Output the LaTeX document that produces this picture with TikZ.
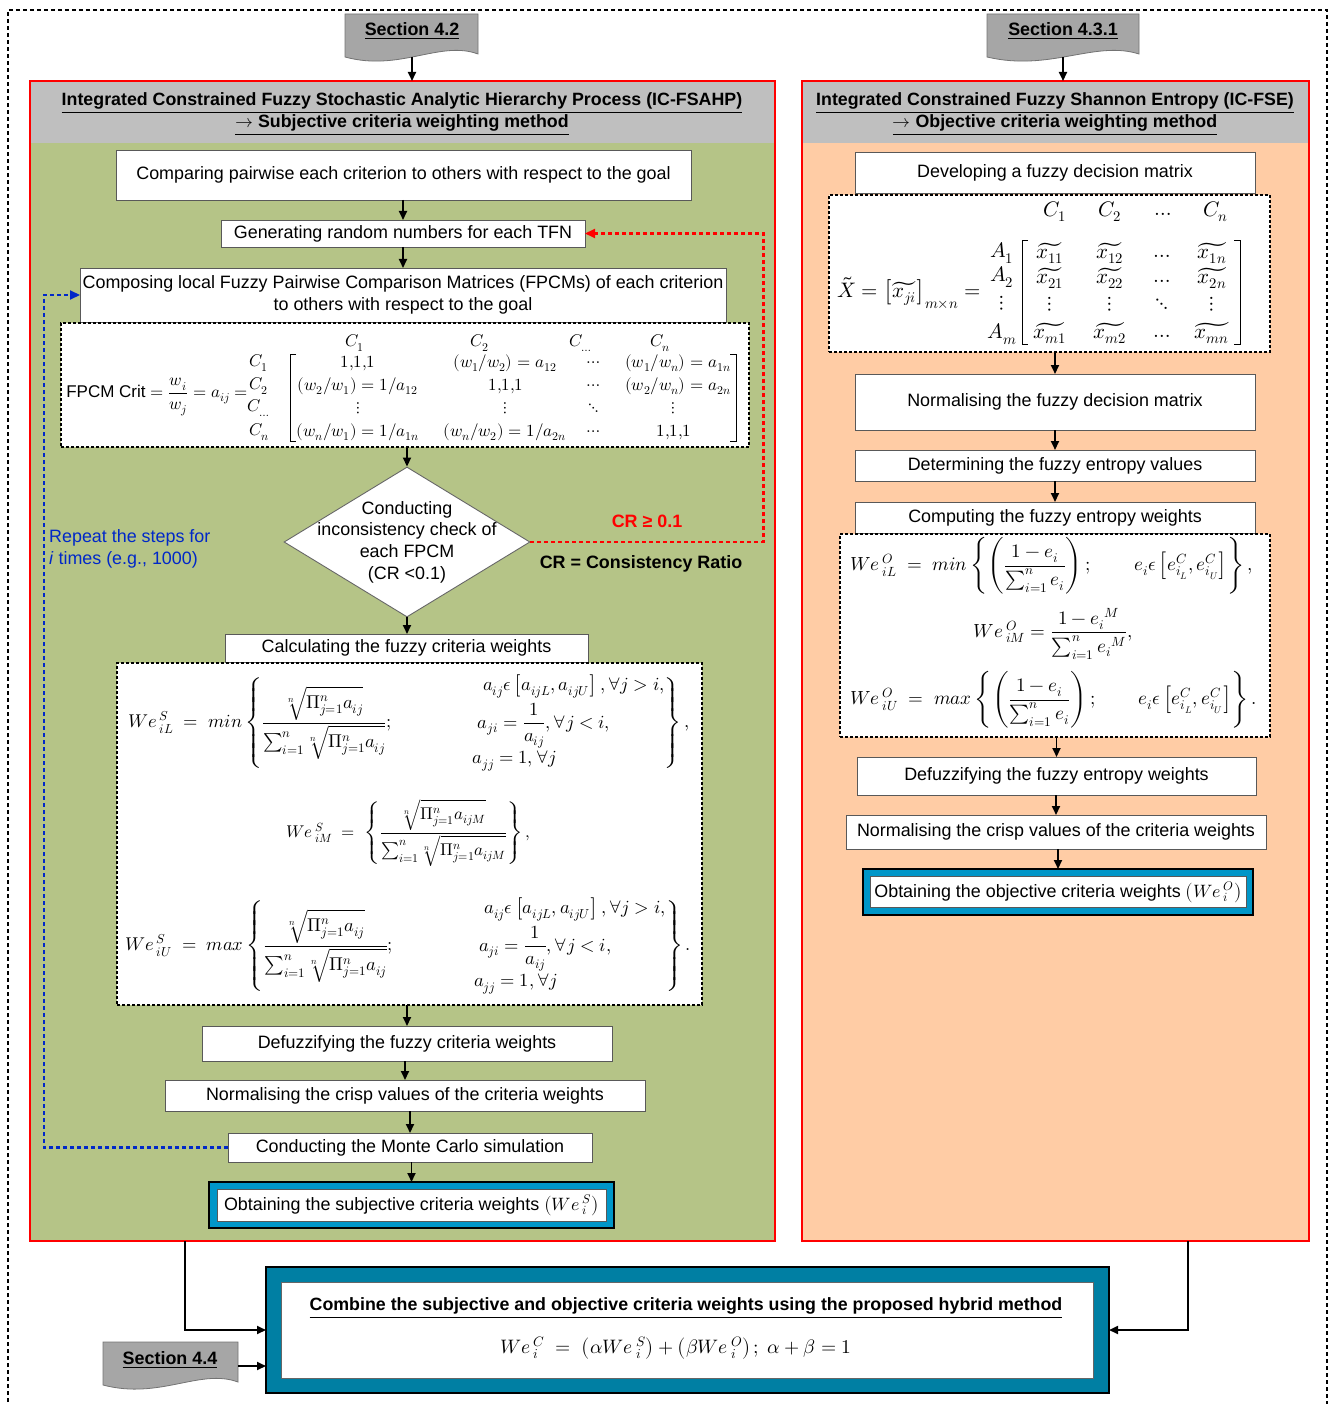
\documentclass[tikz,border=0pt]{standalone}
\usepackage{amsmath}
\usepackage{unicode-math}
\setmainfont{Liberation Sans}
\setmathfont{Latin Modern Math}
\usetikzlibrary{arrows.meta,shapes.geometric}
\definecolor{greenfill}{RGB}{181,196,135}
\definecolor{peachfill}{RGB}{255,204,165}
\definecolor{headgray}{RGB}{191,191,191}
\definecolor{taggray}{RGB}{166,166,166}
\definecolor{obtblue}{RGB}{0,150,200}
\definecolor{combblue}{RGB}{0,127,163}
\definecolor{repblue}{RGB}{0,40,200}
\newcommand{\txtfs}{\fontsize{17.9}{21.7}\selectfont}
\newcommand{\headfs}{\fontsize{17.8}{22}\selectfont\bfseries}
\newcommand{\mathfs}{\fontsize{17}{20}\selectfont}
\newcommand{\formfs}{\fontsize{18.5}{22}\selectfont}
\newcommand{\rformfs}{\fontsize{19}{22}\selectfont}
\newcommand{\rmatfs}{\fontsize{21}{24}\selectfont}
\newcommand{\Wsym}[2]{We\,{}^{#1}_{#2}}
\newcommand{\harr}{$\rightarrow$}
\newcommand{\rtp}[1]{\sqrt[n]{\vphantom{\big(}#1}}
\begin{document}
\begin{tikzpicture}[x=1pt,y=-1pt,
  stepbox/.style={draw=black!65, fill=white, line width=0.9pt, inner sep=0pt, outer sep=0pt, align=center, font=\txtfs},
  arr/.style={draw=black, line width=1.8pt, -{Triangle[length=9pt,width=8pt]}},
  dbox/.style={draw=black, line width=1.6pt, dash pattern=on 3pt off 2pt, fill=white, inner sep=0pt, outer sep=0pt},
  mathn/.style={inner sep=0pt, font=\mathfs},
  formn/.style={inner sep=0pt, font=\formfs},
  rformn/.style={inner sep=0pt, font=\rformfs},
  rmatn/.style={inner sep=0pt, font=\rmatfs},
  tagshape/.style={draw=black!55, fill=taggray, line width=0.8pt},
  tagtext/.style={font=\txtfs\bfseries, inner sep=0pt},
  panel/.style={draw=none, inner sep=0pt, outer sep=0pt},
  redline/.style={draw=red, line width=2.5pt},
  hdr/.style={font=\headfs, align=center, inner sep=0pt},
  obtouter/.style={draw=black, line width=2pt, fill=obtblue, inner sep=0pt, outer sep=0pt},
  brk/.style={draw=black, line width=0.9pt}
]
\useasboundingbox (0,0) rectangle (1330,1404);
% outer frame
\draw[line width=2pt, dash pattern=on 4pt off 3pt] (8,1430) -- (8,10) -- (1327,10) -- (1327,1430);

% ---------- panels
\node[panel, fill=greenfill, minimum width=745, minimum height=1160, anchor=north west] (lred) at (30,81) {};
\fill[headgray] (lred.north west) rectangle ([yshift=-62pt]lred.north east);
\draw[redline] (lred.north west) rectangle (lred.south east);
\node[panel, fill=peachfill, minimum width=507, minimum height=1160, anchor=north west] (rred) at (802,81) {};
\fill[headgray] (rred.north west) rectangle ([yshift=-62pt]rred.north east);
\draw[redline] (rred.north west) rectangle (rred.south east);

\node[hdr] (lhdr) at (402,114) {\underline{Integrated Constrained Fuzzy Stochastic Analytic Hierarchy Process (IC-FSAHP)}\\\underline{\harr{} Subjective criteria weighting method}};
\node[hdr] (rhdr) at (1055,114) {\underline{Integrated Constrained Fuzzy Shannon Entropy (IC-FSE)}\\\underline{\harr{} Objective criteria weighting method}};

% ---------- section tags
\draw[tagshape] (345,14) -- (478,14) -- (478,54) .. controls (440,40) and (400,72) .. (345,57) -- cycle;
\node[tagtext] (s42) at (412,31) {\underline{Section 4.2}};
\coordinate (s42b) at (412,57);
\draw[tagshape] (987,14) -- (1139,14) -- (1139,54) .. controls (1095,40) and (1050,72) .. (987,57) -- cycle;
\node[tagtext] (s431) at (1063,31) {\underline{Section 4.3.1}};
\coordinate (s431b) at (1063,57);
\draw[tagshape] (103,1342) -- (238,1342) -- (238,1382) .. controls (200,1368) and (160,1400) .. (103,1385) -- cycle;
\node[tagtext] (s44) at (170,1360) {\underline{Section 4.4}};
\coordinate (s44e) at (238,1366);

\draw[arr] (s42b) -- (s42b |- lred.north);
\draw[arr] (s431b) -- (s431b |- rred.north);

% ---------- left column
\node[stepbox, minimum width=575, minimum height=50] (b1) at (403.5,175) {Comparing pairwise each criterion to others with respect to the goal};
\node[stepbox, minimum width=364, minimum height=27] (b2) at (403,233.5) {Generating random numbers for each TFN};
\node[stepbox, minimum width=646, minimum height=54] (b3) at (403,295) {Composing local Fuzzy Pairwise Comparison Matrices (FPCMs) of each criterion\\to others with respect to the goal};
\node[dbox, minimum width=688, minimum height=124] (fpcm) at (405,385) {};

% FPCM matrix content
\node[mathn] (fl) at (157,397) {$\mathrm{FPCM\ Crit}=\dfrac{w_i}{w_j}=a_{ij}=$};
\node[mathn] (h1) at (355,343) {$C_1$};
\node[mathn] (h2) at (480,343) {$C_2$};
\node[mathn] (h3) at (581,343) {$C_{\ldots}$};
\node[mathn] (h4) at (660,343) {$C_n$};
\node[mathn] (l1) at (259,363) {$C_1$};
\node[mathn] (l2) at (259,386) {$C_2$};
\node[mathn] (l3) at (259,408) {$C_{\ldots}$};
\node[mathn] (l4) at (259,432) {$C_n$};
\node[mathn] (m11) at (358,363) {$1{,}1{,}1$};
\node[mathn] (m12) at (505,363) {$(w_1/w_2)=a_{12}$};
\node[mathn] (m13) at (594,363) {$\ldots$};
\node[mathn] (m14) at (678,363) {$(w_1/w_n)=a_{1n}$};
\node[mathn] (m21) at (358,386) {$(w_2/w_1)=1/a_{12}$};
\node[mathn] (m22) at (506,386) {$1{,}1{,}1$};
\node[mathn] (m23) at (594,386) {$\ldots$};
\node[mathn] (m24) at (678,386) {$(w_2/w_n)=a_{2n}$};
\node[mathn] (m31) at (358,408) {$\vdots$};
\node[mathn] (m32) at (505,408) {$\vdots$};
\node[mathn] (m33) at (594,408) {$\ddots$};
\node[mathn] (m34) at (673,408) {$\vdots$};
\node[mathn] (m41) at (358,432) {$(w_n/w_1)=1/a_{1n}$};
\node[mathn] (m42) at (505,432) {$(w_n/w_2)=1/a_{2n}$};
\node[mathn] (m43) at (594,432) {$\ldots$};
\node[mathn] (m44) at (674,432) {$1{,}1{,}1$};
\draw[brk] (296,354) -- (290,354) -- (290,441) -- (296,441);
\draw[brk] (730,354) -- (736,354) -- (736,441) -- (730,441);

\node[diamond, draw=black!60, line width=0.9pt, fill=white, minimum width=246, minimum height=150, inner sep=0pt] (dia) at (407,542) {};
\node[font=\txtfs, align=center, inner sep=0pt] (diat) at (dia.center) {Conducting\\inconsistency check of\\each FPCM\\(CR <0.1)};
\node[stepbox, minimum width=363, minimum height=28] (b6) at (406.5,648) {Calculating the fuzzy criteria weights};
\node[dbox, minimum width=585, minimum height=342] (lform) at (409.5,834) {};

\node[formn, anchor=west] (lf1) at (128,723) {$\Wsym{S}{iL} \;=\; min\left\{\dfrac{\rtp{\mitPi_{j=1}^{n}a_{ij}}}{\sum\nolimits_{i=1}^{n}\rtp{\mitPi_{j=1}^{n}a_{ij}}};\hspace{78pt}\begin{array}{@{}l@{}} \;\;a_{ij}\epsilon\left[a_{ijL},a_{ijU}\right],\forall j>i,\\[6pt] \;a_{ji}=\dfrac{1}{a_{ij}},\forall j<i,\\[6pt] a_{jj}=1,\forall j\end{array}\right\},$};
\node[mathn] (lf2) at (408,833) {$\Wsym{S}{iM} \;=\; \left\{\dfrac{\rtp{\mitPi_{j=1}^{n}a_{ijM}}}{\sum\nolimits_{i=1}^{n}\rtp{\mitPi_{j=1}^{n}a_{ijM}}}\right\},$};
\node[formn, anchor=west] (lf3) at (125,946) {$\Wsym{S}{iU} \;=\; max\left\{\dfrac{\rtp{\mitPi_{j=1}^{n}a_{ij}}}{\sum\nolimits_{i=1}^{n}\rtp{\mitPi_{j=1}^{n}a_{ij}}};\hspace{78pt}\begin{array}{@{}l@{}} \;\;a_{ij}\epsilon\left[a_{ijL},a_{ijU}\right],\forall j>i,\\[6pt] \;a_{ji}=\dfrac{1}{a_{ij}},\forall j<i,\\[6pt] a_{jj}=1,\forall j\end{array}\right\}.$};

\node[stepbox, minimum width=410, minimum height=35] (b8) at (407,1043.5) {Defuzzifying the fuzzy criteria weights};
\node[stepbox, minimum width=480, minimum height=31] (b9) at (405,1095.5) {Normalising the crisp values of the criteria weights};
\node[stepbox, minimum width=364, minimum height=29] (b10) at (410,1147.5) {Conducting the Monte Carlo simulation};
\node[obtouter, minimum width=405, minimum height=46] (b11) at (411.5,1205) {};
\node[stepbox, minimum width=389, minimum height=32] (b11i) at (b11.center) {Obtaining the subjective criteria weights $\left(We\,{}^{S}_{i}\right)$};

\draw[arr] (b2.north |- b1.south) -- (b2.north);
\draw[arr] (b3.north |- b2.south) -- (b3.north);
\draw[arr] (dia.north |- fpcm.south) -- (dia.north);
\draw[arr] (dia.south) -- (dia.south |- b6.north);
\draw[arr] (b8.north |- lform.south) -- (b8.north);
\draw[arr] (b9.north |- b8.south) -- (b9.north);
\draw[arr] (b10.north |- b9.south) -- (b10.north);
\draw[arr] (b11.north |- b10.south) -- (b11.north);

% feedback loops
\draw[red, line width=2.2pt, dash pattern=on 4pt off 3pt, -{Triangle[length=10pt,width=9pt]}] (dia.east) -- ++(233,0) |- (b2.east);
\node[font=\txtfs\bfseries, text=red, inner sep=0pt] (crge) at (647,521) {CR ≥ 0.1};
\node[font=\txtfs\bfseries, inner sep=0pt] (crdef) at (641,564) {CR = Consistency Ratio};
\draw[repblue, line width=2.2pt, dash pattern=on 4pt off 3pt, -{Triangle[length=10pt,width=9pt]}] (b10.west) -- ++(-184,0) |- (b3.west);
\node[font=\txtfs, text=repblue, align=left, anchor=west, inner sep=0pt] (rep) at (49,549) {Repeat the steps for\\\textit{i} times (e.g., 1000)};

% ---------- right column
\node[stepbox, minimum width=400, minimum height=41] (r1) at (1055,172.5) {Developing a fuzzy decision matrix};
\node[dbox, line width=2pt, minimum width=441, minimum height=157] (rmat) at (1049.5,273.5) {};
\node[rmatn] (xl) at (909,293) {$\tilde{X}=\left[\widetilde{x_{ji}}\right]_{m\times n}=$};
\node[rmatn] (rh1) at (1055,212) {$C_1$};
\node[rmatn] (rh2) at (1110,212) {$C_2$};
\node[rmatn] (rh3) at (1163,214) {$\ldots$};
\node[rmatn] (rh4) at (1216,212) {$C_n$};
\node[rmatn] (ra1) at (1002,253) {$A_1$};
\node[rmatn] (ra2) at (1002,277) {$A_2$};
\node[rmatn] (ra3) at (1002,303) {$\vdots$};
\node[rmatn] (ra4) at (1002,334) {$A_m$};
\node[rmatn] (x11) at (1050,253) {$\widetilde{x_{11}}$};
\node[rmatn] (x12) at (1110,253) {$\widetilde{x_{12}}$};
\node[rmatn] (x13) at (1162,256) {$\ldots$};
\node[rmatn] (x14) at (1212,253) {$\widetilde{x_{1n}}$};
\node[rmatn] (x21) at (1050,278) {$\widetilde{x_{21}}$};
\node[rmatn] (x22) at (1110,278) {$\widetilde{x_{22}}$};
\node[rmatn] (x23) at (1162,281) {$\ldots$};
\node[rmatn] (x24) at (1212,278) {$\widetilde{x_{2n}}$};
\node[rmatn] (x31) at (1050,304) {$\vdots$};
\node[rmatn] (x32) at (1110,304) {$\vdots$};
\node[rmatn] (x33) at (1162,304) {$\ddots$};
\node[rmatn] (x34) at (1212,304) {$\vdots$};
\node[rmatn] (x41) at (1050,333) {$\widetilde{x_{m1}}$};
\node[rmatn] (x42) at (1110,333) {$\widetilde{x_{m2}}$};
\node[rmatn] (x43) at (1162,336) {$\ldots$};
\node[rmatn] (x44) at (1212,333) {$\widetilde{x_{mn}}$};
\draw[brk] (1028,240) -- (1022,240) -- (1022,344) -- (1028,344);
\draw[brk] (1234,240) -- (1240,240) -- (1240,344) -- (1234,344);

\node[stepbox, minimum width=400, minimum height=56] (r3) at (1055,402) {Normalising the fuzzy decision matrix};
\node[stepbox, minimum width=400, minimum height=31] (r4) at (1055,465.5) {Determining the fuzzy entropy values};
\node[stepbox, minimum width=400, minimum height=31] (r5) at (1055,517.5) {Computing the fuzzy entropy weights};
\node[dbox, minimum width=430, minimum height=203] (rform) at (1055,635.5) {};
\node[rformn, anchor=west] (rf1) at (850,566) {$\Wsym{O}{iL} \;=\; min\left\{\left(\dfrac{1-e_i}{\sum\nolimits_{i=1}^{n}e_i}\right);\hspace{40pt} e_i\epsilon\left[e^{C}_{i_L},e^{C}_{i_U}\right]\right\},$};
\node[rformn] (rf2) at (1053,634) {$\Wsym{O}{iM}=\dfrac{1-{e_i}^{M}}{\sum\nolimits_{i=1}^{n}{e_i}^{M}},$};
\node[rformn, anchor=west] (rf3) at (850,700) {$\Wsym{O}{iU} \;=\; max\left\{\left(\dfrac{1-e_i}{\sum\nolimits_{i=1}^{n}e_i}\right);\hspace{40pt} e_i\epsilon\left[e^{C}_{i_L},e^{C}_{i_U}\right]\right\}.$};
\node[stepbox, minimum width=399, minimum height=38] (r7) at (1056.5,776) {Defuzzifying the fuzzy entropy weights};
\node[stepbox, minimum width=420, minimum height=34] (r8) at (1056,832) {Normalising the crisp values of the criteria weights};
\node[obtouter, minimum width=390, minimum height=46] (r9) at (1058,892) {};
\node[stepbox, minimum width=376, minimum height=31] (r9i) at (r9.center) {Obtaining the objective criteria weights $\left(We\,{}^{O}_{i}\right)$};

\draw[arr] (r3.north |- rmat.south) -- (r3.north);
\draw[arr] (r4.north |- r3.south) -- (r4.north);
\draw[arr] (r5.north |- r4.south) -- (r5.north);
\draw[arr] (r7.north |- rform.south) -- (r7.north);
\draw[arr] (r8.north |- r7.south) -- (r8.north);
\draw[arr] (r9.north |- r8.south) -- (r9.north);

% ---------- combined
\node[draw=black, line width=2.5pt, fill=combblue, minimum width=843, minimum height=126, inner sep=0pt, outer sep=0pt] (comb) at (687.5,1330) {};
\node[draw=black!60, line width=0.9pt, fill=white, minimum width=812, minimum height=96, inner sep=0pt] (combi) at (comb.center) {};
\node[hdr] (combt) at (686,1308) {\underline{Combine the subjective and objective criteria weights using the proposed hybrid method}};
\node[inner sep=0pt, font=\fontsize{19.5}{22}\selectfont] (combf) at (676,1348) {$\Wsym{C}{i} \;=\; \left(\alpha We\,{}^{S}_{i}\right)+\left(\beta We\,{}^{O}_{i}\right);\ \alpha+\beta=1$};

\draw[arr] ([xshift=155pt]lred.south west) |- (comb.west);
\draw[arr] ([xshift=-121pt]rred.south east) |- (comb.east);
\draw[arr] (s44e) -- (comb.west |- s44e);
\end{tikzpicture}
\end{document}
